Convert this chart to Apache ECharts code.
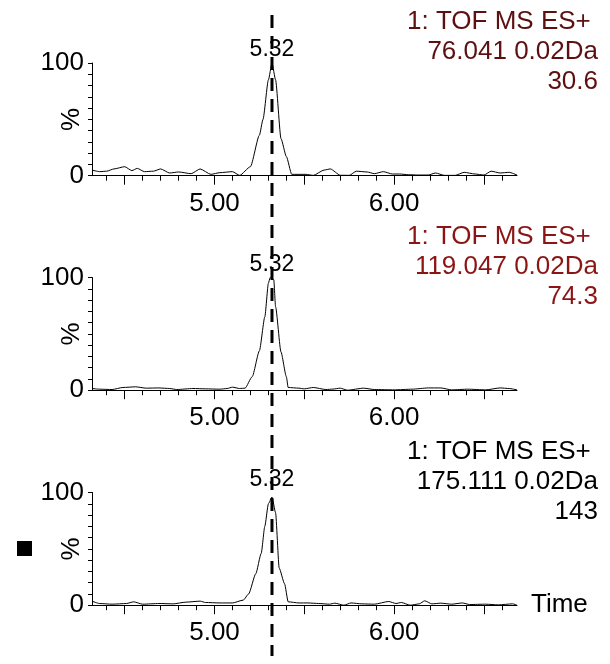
<!DOCTYPE html>
<html>
<head>
<meta charset="utf-8">
<script src="https://cdn.jsdelivr.net/npm/echarts@6/dist/echarts.min.js"></script>
<style>
html,body{margin:0;padding:0;background:#fff;}
#chart{width:610px;height:664px;}
</style>
</head>
<body>
<div id="chart"></div>
<script>
// ---- Data ----
const topT = [4.318,4.36,4.40,4.44,4.50,4.54,4.57,4.61,4.66,4.70,4.75,4.80,4.87,4.92,4.98,5.03,5.10,5.14,5.20,5.25,5.27,5.30,5.32,5.34,5.37,5.40,5.43,5.51,5.55,5.61,5.645,5.70,5.75,5.79,5.85,5.89,5.94,5.99,6.03,6.08,6.13,6.19,6.23,6.28,6.34,6.39,6.45,6.50,6.54,6.59,6.64,6.684];
const topV = [5,3.6,4,6,8,4.5,6.5,3.6,4,6,2.4,3.3,1.8,6,1.2,2.7,3.6,0.3,8,36,50,85,100,85,33,17,1.2,1.2,0.3,5,6,0.4,0.3,4,3.3,1.8,3.6,1.5,1.5,0.9,0.6,0.6,2.4,0.3,0.3,3,1.5,0.6,4,2.4,3,0.6];

const midT = [4.318,4.36,4.43,4.49,4.56,4.62,4.69,4.75,4.79,4.88,4.95,5.03,5.07,5.10,5.14,5.17,5.21,5.25,5.28,5.30,5.31,5.33,5.34,5.37,5.40,5.41,5.47,5.50,5.55,5.62,5.66,5.70,5.74,5.83,5.89,6.00,6.10,6.19,6.26,6.32,6.41,6.51,6.59,6.64,6.684];
const midV = [1.5,0.9,0.6,2.4,3,1.8,2,1.5,0.6,1.5,1.2,0.9,1.5,2.7,1.5,1.8,12,35,65,95,100,98,74,34,12,2.4,1.8,1.2,2.4,0.6,1,1.8,0,1.8,0.6,0.3,0.9,2,2,0.3,0.9,0.3,2,1.5,0.3];

const botT = [4.318,4.36,4.43,4.51,4.55,4.60,4.69,4.77,4.84,4.92,4.95,5.03,5.10,5.16,5.19,5.23,5.26,5.28,5.30,5.32,5.34,5.36,5.39,5.41,5.47,5.52,5.58,5.64,5.67,5.72,5.76,5.82,5.89,5.97,6.01,6.04,6.09,6.14,6.17,6.21,6.26,6.32,6.38,6.42,6.51,6.58,6.66,6.684];
const botV = [3.6,1.5,0.9,1.5,3,0.9,1.5,1.2,2.7,3.6,2.4,2,2,4.5,10,28,46,70,90,96,82,33,19,3,2,2,1.5,0.9,1.8,0,2,1.2,0.9,3.3,1.5,2.4,0,1.2,3.9,1.2,1.8,0.9,2,0.6,0.9,0.3,1.2,0];

const xMin = 4.318, xMax = 6.684;
const xMinorTicks = [4.4,4.5,4.6,4.7,4.8,4.9,5.0,5.1,5.2,5.3,5.4,5.5,5.6,5.7,5.8,5.9,6.0,6.1,6.2,6.3,6.4,6.5,6.6];
const xMajorTicks = [4.5,5.0,5.5,6.0,6.5];
const xTickLabels = [5.0,6.0];
const yTicks = [0,10,20,30,40,50,60,70,80,90,100];
const yTickLabels = [0,100];
const peakTime = 5.32;
const peakLabel = '5.32';
const titles = [
  ['1: TOF MS ES+ ','76.041 0.02Da','30.6'],
  ['1: TOF MS ES+ ','119.047 0.02Da','74.3'],
  ['1: TOF MS ES+ ','175.111 0.02Da','143']
];
const titleColors = ['#5c1010','#8b1515','#000000'];
const seriesT = [topT, midT, botT];
const seriesV = [topV, midV, botV];

// ---- Chart ----
const FONT = "'Liberation Sans', Arial, sans-serif";
const FS = 26;
const gridTops = [63, 277.5, 492.5];
const gridH = 112.7;
const chart = echarts.init(document.getElementById('chart'), null, {renderer:'canvas'});

const option = {animation:false, backgroundColor:'#fff', grid:[], xAxis:[], yAxis:[], series:[], title:[]};
for (let i = 0; i < 3; i++) {
  option.grid.push({left:92, top:gridTops[i], width:425, height:gridH});
  option.xAxis.push({
    type:'value', gridIndex:i, min:xMin, max:xMax,
    axisLine:{show:true, lineStyle:{color:'#000', width:1}},
    axisTick:{show:true, customValues:xMinorTicks, length:5, lineStyle:{color:'#000', width:1}},
    axisLabel:{customValues:xTickLabels, formatter:v=>v.toFixed(2), margin:15, fontSize:FS, color:'#000', fontFamily:FONT},
    splitLine:{show:false},
    name: i === 2 ? 'Time' : '', nameLocation:'end', nameGap:14, nameMoveOverlap:false,
    nameTextStyle:{fontSize:FS, color:'#000', fontFamily:FONT}
  });
  option.xAxis.push({
    type:'value', gridIndex:i, min:xMin, max:xMax, position:'bottom',
    axisLine:{show:false},
    axisTick:{show:true, customValues:xMajorTicks, length:9, lineStyle:{color:'#000', width:1}},
    axisLabel:{show:false}, splitLine:{show:false}
  });
  option.yAxis.push({
    type:'value', gridIndex:i, min:0, max:100,
    axisLine:{show:true, lineStyle:{color:'#000', width:1}},
    axisTick:{show:true, customValues:yTicks, length:4, lineStyle:{color:'#000', width:1}},
    axisLabel:{customValues:yTickLabels, margin:8, fontSize:FS, color:'#000', fontFamily:FONT},
    splitLine:{show:false},
    name:'%', nameLocation:'middle', nameGap:7, nameRotate:90, nameMoveOverlap:false,
    nameTextStyle:{fontSize:FS, color:'#000', fontFamily:FONT}
  });
  option.series.push({
    type:'line', xAxisIndex:i*2, yAxisIndex:i,
    data: seriesT[i].map((t, k) => [t, seriesV[i][k]]),
    showSymbol:false, smooth:0.2, smoothMonotone:'x',
    lineStyle:{color:'#000', width:1}, silent:true,
    markPoint:{
      symbol:'rect', symbolSize:1, itemStyle:{color:'transparent'}, silent:true,
      data:[{coord:[peakTime, 100]}],
      label:{show:true, position:'top', distance:1, formatter:peakLabel, fontSize:23, color:'#000', fontFamily:FONT}
    }
  });
  option.title.push({
    text: titles[i].join('\n'), left:598, top:gridTops[i] - 56, textAlign:'right', padding:0,
    textStyle:{fontSize:FS, lineHeight:30, color:titleColors[i], fontWeight:'normal', fontFamily:FONT}
  });
}
chart.setOption(option);

const px = chart.convertToPixel({xAxisIndex:0}, peakTime);
chart.setOption({graphic:[
  {type:'line', z:100, silent:true, shape:{x1:px, y1:15, x2:px, y2:656}, style:{stroke:'#000', lineWidth:3, lineDash:[13,8]}},
  {type:'rect', silent:true, shape:{x:17, y:541, width:15, height:15}, style:{fill:'#000'}}
]});
</script>
</body>
</html>
